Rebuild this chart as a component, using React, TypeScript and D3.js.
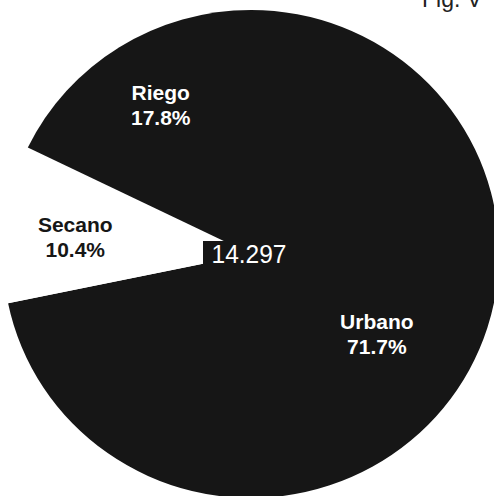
import React from "react";
import * as d3 from "d3";

const categories = ["Urbano", "Secano", "Riego"];
const shares = [71.7, 10.4, 17.8];
const shareLabels = ["71.7%", "10.4%", "17.8%"];
const totalLabel = "14.297";
const figLabel = "Fig. V";

const sliceColors: Record<string, string> = { Urbano: "#161616", Secano: "#ffffff", Riego: "#161616" };
const labelColors: Record<string, string> = { Urbano: "#ffffff", Secano: "#161616", Riego: "#ffffff" };
// label placement: [radius, angle shift in degrees]
const labelPolar: Record<string, [number, number]> = { Urbano: [154, -4], Secano: [176, -4], Riego: [170, 0] };

const W = 494;
const H = 496;
const CX = 251;
const CY = 254;
const R = 248;
const KY = 244 / 248;
const FONT = "'Liberation Sans', Arial, Helvetica, sans-serif";

export default function App() {
  const data = categories.map((c, i) => ({ cat: c, value: shares[i], label: shareLabels[i] }));
  const pie = d3.pie<any>().value((d) => d.value).sort(null).startAngle(0).endAngle(2 * Math.PI);
  const arcs = pie(data);
  const arc = d3.arc<any>().innerRadius(0).outerRadius(R);

  return (
    <svg width={W} height={H} style={{ position: "absolute", left: 0, top: 0, background: "#fff" }}>
      <rect x={0} y={0} width={W} height={H} fill="#fff" />
      <g transform={`translate(${CX},${CY}) scale(1,${KY})`}>
        {arcs.map((a) => (
          <path key={a.data.cat} d={arc(a) || ""} fill={sliceColors[a.data.cat]} stroke="none" />
        ))}
      </g>
      <rect x={203} y={241} width={90} height={30} fill="#161616" />
      <text x={211.5} y={262.5} fill="#ffffff" fontFamily={FONT} fontSize={25} textLength={75} lengthAdjust="spacingAndGlyphs">
        {totalLabel}
      </text>
      {arcs.map((a) => {
        const [r, shift] = labelPolar[a.data.cat];
        const mid = (a.startAngle + a.endAngle) / 2 + (shift * Math.PI) / 180;
        const x = CX + r * Math.sin(mid);
        const y = CY - r * Math.cos(mid) * KY;
        return (
          <g key={"l" + a.data.cat} fontFamily={FONT} fontWeight="bold" fontSize={21} fill={labelColors[a.data.cat]} textAnchor="middle">
            <text x={x} y={y - 12.5}>{a.data.cat}</text>
            <text x={x} y={y + 12.5}>{a.data.label}</text>
          </g>
        );
      })}
      <text x={422} y={7} fill="#222" fontFamily={FONT} fontSize={23}>
        {figLabel}
      </text>
    </svg>
  );
}
